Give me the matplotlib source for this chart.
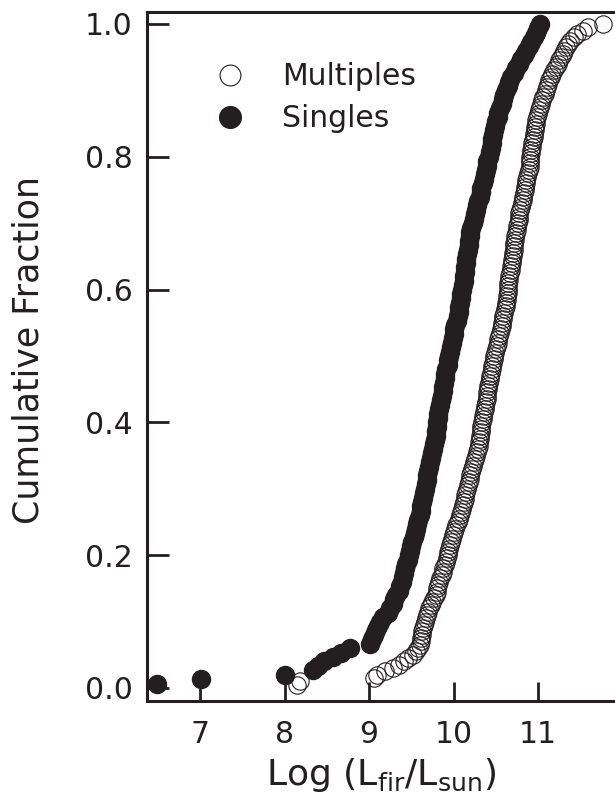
import numpy as np
import matplotlib
matplotlib.use("Agg")
import matplotlib.pyplot as plt

# log(L_fir/L_sun) values, sorted
singles = [6.49, 7.01, 8.00, 8.34, 8.40, 8.47, 8.57, 8.67, 8.77, 9.01,
           9.04, 9.06, 9.08, 9.11, 9.13, 9.17, 9.22, 9.25, 9.28, 9.30,
           9.32, 9.35, 9.37, 9.39, 9.40, 9.41, 9.43, 9.44, 9.46, 9.47,
           9.49, 9.50, 9.51, 9.53, 9.54, 9.56, 9.57, 9.58, 9.60, 9.61,
           9.62, 9.63, 9.64, 9.65, 9.66, 9.67, 9.68, 9.69, 9.70, 9.71,
           9.72, 9.73, 9.75, 9.76, 9.77, 9.78, 9.79, 9.79, 9.80, 9.81,
           9.82, 9.82, 9.83, 9.84, 9.85, 9.86, 9.87, 9.88, 9.89, 9.90,
           9.90, 9.91, 9.93, 9.94, 9.95, 9.96, 9.97, 9.98, 9.99, 10.00,
           10.01, 10.02, 10.04, 10.05, 10.06, 10.07, 10.08, 10.09, 10.09, 10.10,
           10.11, 10.12, 10.12, 10.13, 10.14, 10.15, 10.15, 10.16, 10.17, 10.18,
           10.18, 10.19, 10.20, 10.21, 10.23, 10.24, 10.25, 10.27, 10.28, 10.29,
           10.31, 10.32, 10.33, 10.35, 10.36, 10.37, 10.38, 10.39, 10.40, 10.42,
           10.43, 10.44, 10.45, 10.46, 10.47, 10.48, 10.49, 10.50, 10.52, 10.53,
           10.55, 10.57, 10.59, 10.60, 10.62, 10.64, 10.66, 10.68, 10.71, 10.74,
           10.77, 10.80, 10.83, 10.86, 10.89, 10.92, 10.95, 10.97, 11.00, 11.02]

multiples = [8.15, 8.18, 9.06, 9.10, 9.19, 9.28, 9.36, 9.41, 9.46, 9.52,
             9.56, 9.58, 9.60, 9.61, 9.62, 9.63, 9.63, 9.64, 9.65, 9.66,
             9.67, 9.68, 9.70, 9.71, 9.73, 9.75, 9.77, 9.79, 9.80, 9.81,
             9.82, 9.83, 9.84, 9.86, 9.87, 9.88, 9.90, 9.91, 9.92, 9.93,
             9.94, 9.95, 9.96, 9.97, 9.98, 9.99, 10.00, 10.02, 10.03, 10.05,
             10.07, 10.08, 10.09, 10.10, 10.11, 10.12, 10.13, 10.14, 10.15, 10.16,
             10.17, 10.18, 10.19, 10.20, 10.21, 10.22, 10.23, 10.24, 10.25, 10.26,
             10.28, 10.29, 10.30, 10.30, 10.31, 10.31, 10.32, 10.33, 10.33, 10.34,
             10.35, 10.35, 10.36, 10.37, 10.37, 10.38, 10.39, 10.39, 10.40, 10.41,
             10.41, 10.42, 10.43, 10.43, 10.44, 10.45, 10.46, 10.47, 10.48, 10.48,
             10.49, 10.50, 10.51, 10.52, 10.53, 10.54, 10.55, 10.56, 10.57, 10.57,
             10.58, 10.59, 10.60, 10.61, 10.62, 10.62, 10.63, 10.63, 10.64, 10.64,
             10.65, 10.65, 10.66, 10.66, 10.67, 10.68, 10.68, 10.69, 10.69, 10.70,
             10.70, 10.71, 10.72, 10.72, 10.73, 10.73, 10.74, 10.75, 10.75, 10.76,
             10.77, 10.78, 10.78, 10.79, 10.80, 10.81, 10.82, 10.82, 10.83, 10.84,
             10.85, 10.86, 10.86, 10.87, 10.88, 10.89, 10.90, 10.90, 10.91, 10.91,
             10.92, 10.92, 10.93, 10.93, 10.94, 10.95, 10.95, 10.96, 10.96, 10.97,
             10.98, 10.99, 11.00, 11.01, 11.02, 11.04, 11.05, 11.06, 11.08, 11.09,
             11.11, 11.12, 11.13, 11.15, 11.17, 11.19, 11.21, 11.23, 11.25, 11.27,
             11.29, 11.31, 11.33, 11.35, 11.38, 11.42, 11.46, 11.53, 11.59, 11.77]

x_ticks = [7, 8, 9, 10, 11]
y_ticks = [0.0, 0.2, 0.4, 0.6, 0.8, 1.0]

# cumulative fraction
y_s = np.arange(1, len(singles) + 1) / len(singles)
y_m = np.arange(1, len(multiples) + 1) / len(multiples)

plt.rcParams['font.family'] = ['DejaVu Sans']
plt.rcParams['mathtext.fontset'] = 'dejavusans'
ink = '#231f20'

fig = plt.figure(figsize=(6.15, 8.02), dpi=100)
ax = fig.add_axes([0.239, 0.126, 0.761, 0.859])

ax.plot(multiples, y_m, 'o', ms=12.5, mfc='none', mec=ink, mew=0.8,
        label='Multiples', clip_on=False)
ax.plot(singles, y_s, 'o', ms=13, color=ink, label='Singles', clip_on=False)

ax.set_xlim(6.373, 11.91)
ax.set_ylim(-0.0196, 1.018)
ax.set_xticks(x_ticks)
ax.set_yticks(y_ticks)
ax.set_yticklabels(['%.1f' % v for v in y_ticks])

for s in ['left', 'bottom', 'top']:
    ax.spines[s].set_linewidth(2.2)
    ax.spines[s].set_color(ink)
ax.spines['right'].set_visible(False)

ax.tick_params(axis='x', direction='in', length=14, width=2, pad=14,
               labelsize=21.5, colors=ink)
ax.tick_params(axis='y', direction='in', length=16, width=2, pad=10.5,
               labelsize=21.5, colors=ink)

ax.set_xlabel(r'Log (L$_{\mathregular{fir}}$/L$_{\mathregular{sun}}$)',
              fontsize=26, color=ink, va='center')
ax.xaxis.set_label_coords(0.5, -0.107)
ax.set_ylabel('Cumulative Fraction', fontsize=25, color=ink, va='center')
ax.yaxis.set_label_coords(-0.254, 0.509)

leg = ax.legend(loc='upper left', bbox_to_anchor=(0.145, 0.927), frameon=False,
                fontsize=21.5, handlelength=1.0, handletextpad=1.24,
                labelspacing=0.44, borderpad=0, borderaxespad=0, markerscale=1.2)
for t in leg.get_texts():
    t.set_color(ink)

fig.savefig('out.png', dpi=100)
